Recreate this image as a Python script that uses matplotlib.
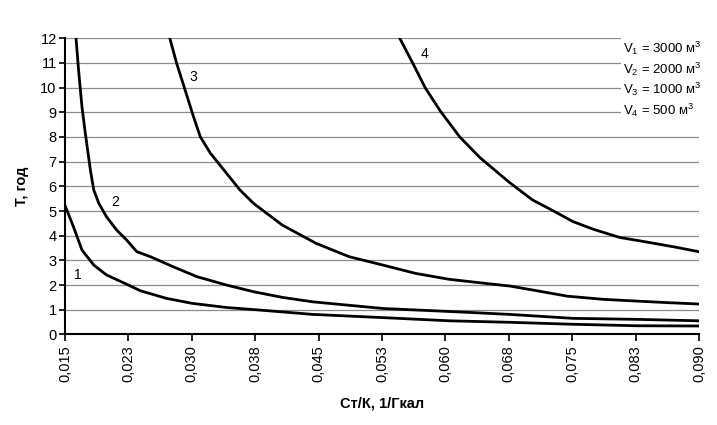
import matplotlib
matplotlib.use("Agg")
import matplotlib.pyplot as plt
from matplotlib.patches import Rectangle

plt.rcParams['font.family'] = ['Liberation Sans', 'DejaVu Sans']
plt.rcParams['mathtext.fontset'] = 'custom'
plt.rcParams['mathtext.rm'] = 'Liberation Sans'
plt.rcParams['mathtext.it'] = 'Liberation Sans'

# curve 1: V1 = 3000 m3
x1 = [0.015, 0.0160, 0.0170, 0.0184, 0.0199, 0.0225, 0.0239, 0.0270, 0.0300,
      0.0341, 0.0379, 0.0443, 0.0526, 0.0605, 0.0676, 0.0751, 0.0826, 0.090]
y1 = [5.22, 4.36, 3.42, 2.81, 2.41, 2.00, 1.77, 1.46, 1.26,
      1.09, 0.99, 0.81, 0.68, 0.55, 0.49, 0.41, 0.35, 0.34]

# curve 2: V2 = 2000 m3
x2 = [0.0163, 0.0166, 0.0170, 0.0174, 0.0180, 0.0184, 0.0190, 0.0199, 0.0211,
      0.0223, 0.0235, 0.0251, 0.0278, 0.0306, 0.0341, 0.0373, 0.0407, 0.0443,
      0.0526, 0.0629, 0.0676, 0.0751, 0.0826, 0.090]
y2 = [12.0, 10.72, 9.23, 8.15, 6.66, 5.85, 5.31, 4.77, 4.23,
      3.82, 3.35, 3.15, 2.74, 2.34, 2.00, 1.73, 1.50, 1.32,
      1.05, 0.89, 0.81, 0.65, 0.61, 0.55]

# curve 3: V3 = 1000 m3
x3 = [0.0274, 0.0282, 0.0292, 0.0302, 0.0310, 0.0322, 0.0338, 0.0357, 0.0373,
      0.0407, 0.0447, 0.0486, 0.0526, 0.0565, 0.0605, 0.0644, 0.0676, 0.0708,
      0.0744, 0.0787, 0.0826, 0.0861, 0.090]
y3 = [12.0, 10.99, 9.91, 8.82, 8.01, 7.34, 6.66, 5.85, 5.31,
      4.43, 3.69, 3.15, 2.81, 2.47, 2.23, 2.08, 1.96, 1.77,
      1.55, 1.42, 1.35, 1.29, 1.23]

# curve 4: V4 = 500 m3
x4 = [0.0546, 0.0562, 0.0576, 0.0594, 0.0617, 0.0641, 0.0676, 0.0703, 0.0728,
      0.0751, 0.0775, 0.0806, 0.0842, 0.0873, 0.090]
y4 = [12.0, 10.95, 10.0, 9.05, 8.0, 7.16, 6.15, 5.45, 5.0,
      4.57, 4.26, 3.93, 3.72, 3.53, 3.35]

curve_labels = ["1", "2", "3", "4"]
label_pos = [(0.0165, 2.4), (0.0209, 5.38), (0.0302, 10.42), (0.0575, 11.38)]
legend_lines = [r"V$_1$ = 3000 м$^3$", r"V$_2$ = 2000 м$^3$",
                r"V$_3$ = 1000 м$^3$", r"V$_4$ = 500 м$^3$"]

x_ticks = [0.015 + 0.0075 * i for i in range(11)]
x_ticklabels = ["0,015", "0,023", "0,030", "0,038", "0,045", "0,053",
                "0,060", "0,068", "0,075", "0,083", "0,090"]

fig = plt.figure(figsize=(7.17, 4.25), dpi=100)
ax = fig.add_axes([0.0907, 0.2132, 0.8842, 0.6967])

for xs, ys in [(x1, y1), (x2, y2), (x3, y3), (x4, y4)]:
    ax.plot(xs, ys, color="black", lw=2.0, solid_joinstyle="round", zorder=3, clip_on=True)

for lab, (lx, ly) in zip(curve_labels, label_pos):
    ax.text(lx, ly, lab, fontsize=10, ha="center", va="center", zorder=4)

ax.set_xlim(0.015, 0.090)
ax.set_ylim(0, 12)
ax.set_yticks(range(0, 13))
ax.set_xticks(x_ticks)
ax.set_xticklabels(x_ticklabels, rotation=90)
ax.tick_params(axis="both", labelsize=10.5, direction="out", width=1.2, color="black")
ax.tick_params(axis="x", length=5, pad=3)
ax.tick_params(axis="y", length=4, pad=2)

ax.grid(axis="y", color="#8c8c8c", lw=0.9, zorder=1)
ax.set_axisbelow(True)
for side in ["top", "right"]:
    ax.spines[side].set_visible(False)
for side in ["left", "bottom"]:
    ax.spines[side].set_linewidth(1.5)
    ax.spines[side].set_zorder(5)

# white box behind the legend text hides the grid there
ax.add_patch(Rectangle((0.8775, 0.725), 0.15, 0.29, transform=ax.transAxes,
                       facecolor="white", edgecolor="none", zorder=2, clip_on=False))
for i, t in enumerate(legend_lines):
    ax.text(0.880, 0.967 - i * 0.0705, t, transform=ax.transAxes, fontsize=9.5,
            ha="left", va="center", zorder=4)

ax.set_xlabel("Ст/К, 1/Гкал", fontsize=10.5, fontweight="bold", labelpad=10)
ax.set_ylabel("Т, год", fontsize=10.5, fontweight="bold", labelpad=8)

fig.savefig("out.png", dpi=100)
